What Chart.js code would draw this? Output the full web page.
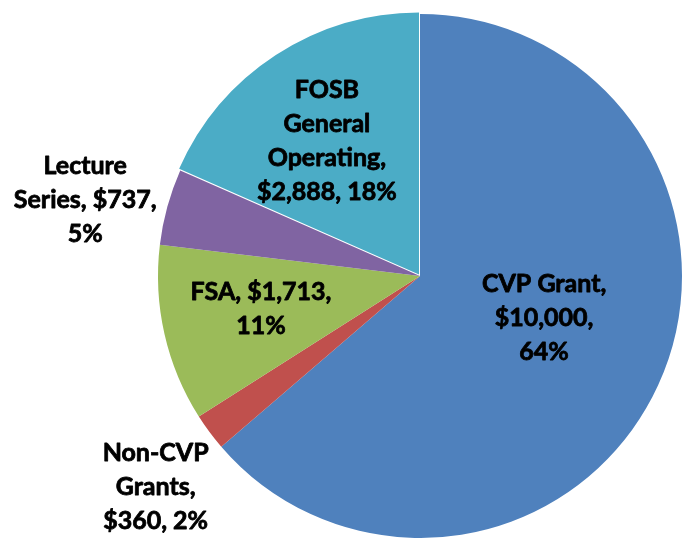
<!DOCTYPE html>
<html>
<head>
<meta charset="utf-8">
<script src="https://cdn.jsdelivr.net/npm/chart.js@4.4.1/dist/chart.umd.min.js"></script>
<style>
    html, body { margin: 0; padding: 0; background: #ffffff; }
    #wrap { width: 684px; height: 538px; }
</style>
</head>
<body>
<div id="wrap"><canvas id="budget-pie" width="684" height="538"></canvas></div>
<script>
// chart data
const categories = ["CVP Grant", "Non-CVP Grants", "FSA", "Lecture Series", "FOSB General Operating"];
const amounts = [10000, 360, 1713, 737, 2888];
const sliceColors = ["#4F81BD", "#C0504D", "#9BBB59", "#8064A2", "#4BACC6"];

const total = amounts.reduce((a, b) => a + b, 0);

function labelWords(i) {
    const pct = Math.round(amounts[i] / total * 100);
    const text = `${categories[i]}, $${amounts[i].toLocaleString("en-US")}, ${pct}%`;
    return text.split(" ");
}

// label layout: where lines break (word index), distance from centre (fraction of radius), angle nudge (deg)
const labelLayout = [
    { breaks: [2, 3], dist: 0.50, nudge: -6 },
    { breaks: [1, 2], dist: 1.29, nudge: -2 },
    { breaks: [2], dist: 0.62, nudge: 1 },
    { breaks: [1, 3], dist: 1.31, nudge: -2.6 },
    { breaks: [1, 2, 3], dist: 0.60, nudge: -1.5 }
];

const sliceLabelPlugin = {
    id: "sliceLabelPlugin",
    afterDatasetsDraw(chart) {
        const { ctx } = chart;
        const meta = chart.getDatasetMeta(0);
        ctx.save();
        ctx.font = "bold 25px Lato, sans-serif";
        ctx.fillStyle = "#000000";
        ctx.strokeStyle = "#000000";
        ctx.lineWidth = 0.8;
        ctx.lineJoin = "round";
        ctx.textAlign = "center";
        ctx.textBaseline = "middle";
        const lineH = 34;
        meta.data.forEach((arc, i) => {
            const lay = labelLayout[i];
            const words = labelWords(i);
            const lines = [];
            let start = 0;
            lay.breaks.concat([words.length]).forEach(b => {
                lines.push(words.slice(start, b).join(" "));
                start = b;
            });
            const off = chart.data.datasets[0].offset[i] || 0;
            const mid = (arc.startAngle + arc.endAngle) / 2;
            const ang = mid + lay.nudge * Math.PI / 180;
            const cx = arc.x + Math.cos(mid) * off + Math.cos(ang) * arc.outerRadius * lay.dist;
            const cy = arc.y + Math.sin(mid) * off + Math.sin(ang) * arc.outerRadius * lay.dist;
            const top = cy - (lines.length - 1) * lineH / 2;
            lines.forEach((ln, k) => {
                ctx.strokeText(ln, cx, top + k * lineH);
                ctx.fillText(ln, cx, top + k * lineH);
            });
        });
        ctx.restore();
    }
};

new Chart(document.getElementById("budget-pie"), {
    type: "pie",
    data: {
        labels: categories,
        datasets: [{
            data: amounts,
            backgroundColor: sliceColors,
            borderWidth: 0,
            offset: [0, 0, 0, 0, 7],
            radius: 262
        }]
    },
    options: {
        responsive: false,
        animation: false,
        layout: { padding: { left: 156, top: 14, right: 0, bottom: 0 } },
        plugins: {
            legend: { display: false },
            tooltip: { enabled: false }
        }
    },
    plugins: [sliceLabelPlugin]
});
</script>
</body>
</html>
